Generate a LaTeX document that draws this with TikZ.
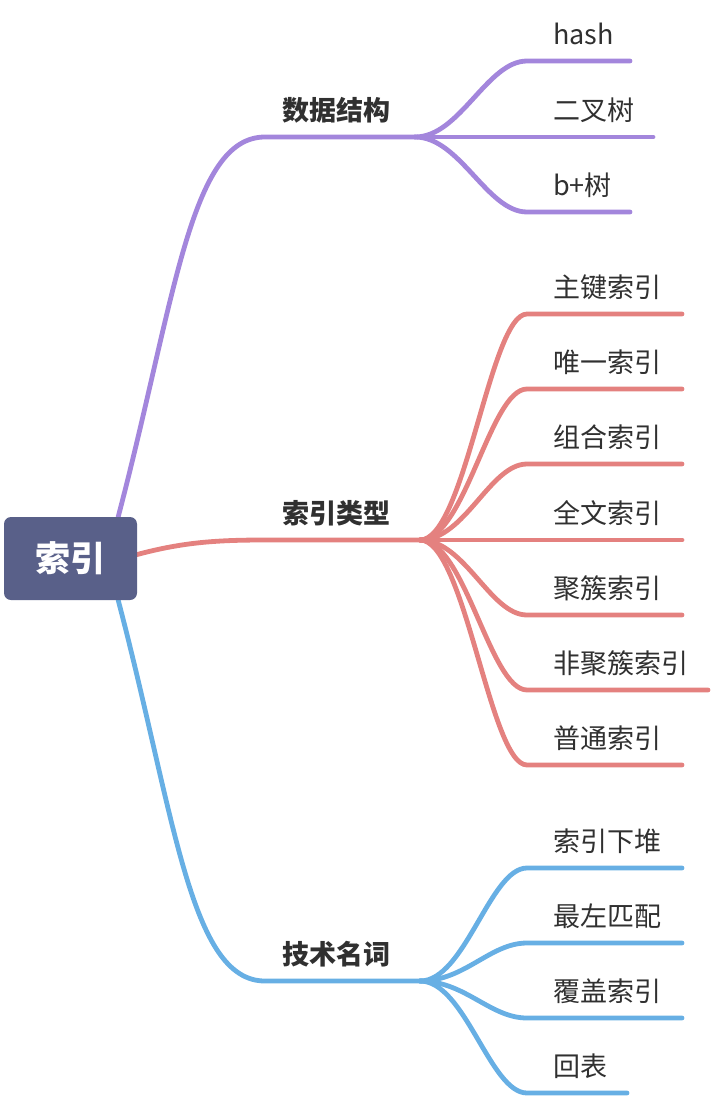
\documentclass[tikz,border=0pt]{standalone}
\usepackage{fontspec}
\setmainfont{Noto Sans CJK SC}
\usetikzlibrary{calc}
\definecolor{purp}{HTML}{A386DC}
\definecolor{redc}{HTML}{E4817F}
\definecolor{bluec}{HTML}{67AFE4}
\definecolor{rootc}{HTML}{596089}
\definecolor{txt}{HTML}{303030}
\pgfdeclarelayer{bg}
\pgfsetlayers{bg,main}
\begin{document}
\begin{tikzpicture}[x=1pt,y=-1pt,
  conn/.style={line width=4.8pt,line cap=round},
  leaf/.style={anchor=base west,inner sep=0pt,text=txt,font=\fontsize{27}{30}\selectfont},
  topic/.style={anchor=base west,inner sep=0pt,text=txt,font=\fontsize{27}{30}\selectfont\bfseries},
  rootbox/.style={fill=rootc,rounded corners=7pt,minimum width=133pt,minimum height=83pt,inner sep=0pt,text=white,font=\fontsize{35}{38}\selectfont\bfseries}]
\useasboundingbox (0,0) rectangle (712,1100);
\node[rootbox] (root) at (70.5,558.5) {索引};
% topics
\node[topic] (ds) at (282,120) {数据结构};
\node[topic] (it) at (282,523) {索引类型};
\node[topic] (tn) at (282,964) {技术名词};
\coordinate (dsS) at (265,137); \coordinate (dsB) at (415,137);
\coordinate (itS) at (265,540); \coordinate (itB) at (420,540);
\coordinate (tnS) at (265,981); \coordinate (tnB) at (420,981);
\begin{pgfonlayer}{bg}
\draw[conn,purp] ($(root.north east)+(-19,0)$) .. controls +(57,-217) and +(-75,0) .. (dsS) -- (dsB);
\draw[conn,redc] ($(root.east)+(0,-4)$) .. controls +(45,-12) and +(-50,0) .. (itS) -- (itB);
\draw[conn,bluec] ($(root.south east)+(-19,0)$) .. controls +(57,217) and +(-75,0) .. (tnS) -- (tnB);
\end{pgfonlayer}
% data structure children
\foreach \i/\t/\y/\e in {1/hash/61/630, 2/二叉树/137/653, 3/b+树/212/630} {
  \node[leaf] (ds\i) at (553,\y-17) {\t};
  \coordinate (dsS\i) at (527,\y); \coordinate (dsE\i) at (\e,\y);
  \draw[conn,purp] (dsB) .. controls +(45,0) and +(-40,0) .. (dsS\i) -- (dsE\i);
}
% index type children
\foreach \i/\t/\y/\e in {1/主键索引/314/682, 2/唯一索引/389/682, 3/组合索引/464/682, 4/全文索引/540/682, 5/聚簇索引/615/682, 6/非聚簇索引/690/708, 7/普通索引/765/682} {
  \node[leaf] (it\i) at (553,\y-17) {\t};
  \coordinate (itS\i) at (527,\y); \coordinate (itE\i) at (\e,\y);
  \draw[conn,redc] (itB) .. controls +(45,0) and +(-37,0) .. (itS\i) -- (itE\i);
}
% technical terms children
\foreach \i/\t/\y/\e in {1/索引下堆/868/682, 2/最左匹配/943/682, 3/覆盖索引/1018/682, 4/回表/1093/627} {
  \node[leaf] (tn\i) at (553,\y-17) {\t};
  \coordinate (tnS\i) at (527,\y); \coordinate (tnE\i) at (\e,\y);
  \draw[conn,bluec] (tnB) .. controls +(45,0) and +(-37,0) .. (tnS\i) -- (tnE\i);
}
\end{tikzpicture}
\end{document}
